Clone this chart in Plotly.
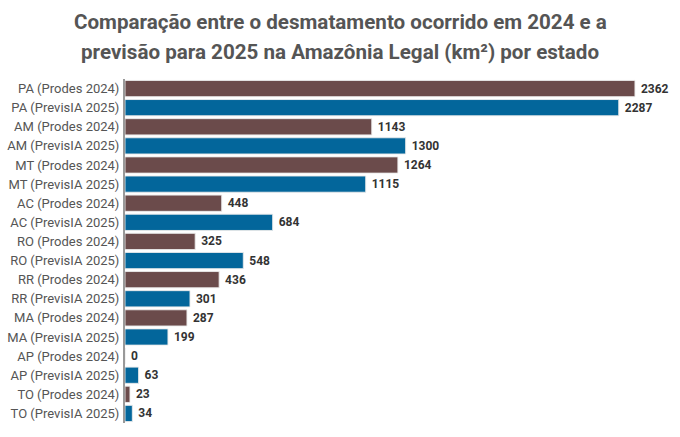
import plotly.graph_objects as go

categories = [
    "PA (Prodes 2024)", "PA (PrevisIA 2025)",
    "AM (Prodes 2024)", "AM (PrevisIA 2025)",
    "MT (Prodes 2024)", "MT (PrevisIA 2025)",
    "AC (Prodes 2024)", "AC (PrevisIA 2025)",
    "RO (Prodes 2024)", "RO (PrevisIA 2025)",
    "RR (Prodes 2024)", "RR (PrevisIA 2025)",
    "MA (Prodes 2024)", "MA (PrevisIA 2025)",
    "AP (Prodes 2024)", "AP (PrevisIA 2025)",
    "TO (Prodes 2024)", "TO (PrevisIA 2025)",
]
values = [2362, 2287, 1143, 1300, 1264, 1115, 448, 684, 325, 548,
          436, 301, 287, 199, 0, 63, 23, 34]
title_lines = [
    "Comparação entre o desmatamento ocorrido em 2024 e a",
    "previsão para 2025 na Amazônia Legal (km²) por estado",
]

BROWN = "#6B4B4B"
BLUE = "#03669B"
colors = [BROWN if "Prodes" in c else BLUE for c in categories]

W, H = 680, 437
ML, MR, MT, MB = 125, 20, 79, 14
plot_w = W - ML - MR
plot_h = H - MT - MB

fig = go.Figure(go.Bar(
    x=values,
    y=categories,
    orientation="h",
    marker=dict(color=colors, line=dict(color="rgba(235,235,235,0.9)", width=1)),
    text=[str(v) for v in values],
    textposition="outside",
    textfont=dict(family="Roboto", size=12, color="#333333"),
    texttemplate=" <b>%{text}</b>",
    cliponaxis=False,
    hoverinfo="x+y",
))

# title lines, centred on the page
cx = (W / 2 - ML) / plot_w
for i, (line, ypix) in enumerate(zip(title_lines, [22, 52])):
    fig.add_annotation(
        text=f"<b>{line}</b>", showarrow=False,
        xref="paper", yref="paper",
        x=cx, y=(H - MB - ypix) / plot_h,
        xanchor="center", yanchor="middle",
        font=dict(family="Roboto", size=20.6, color="#555555"),
    )

fig.update_layout(
    width=W, height=H,
    paper_bgcolor="white", plot_bgcolor="white",
    margin=dict(l=ML, r=MR, t=MT, b=MB, autoexpand=False),
    bargap=0.15,
    xaxis=dict(range=[0, 2478], visible=False, showgrid=False, zeroline=False),
    yaxis=dict(
        autorange="reversed", automargin=False,
        showline=True, linecolor="#999999", linewidth=2,
        showgrid=False, ticks="", ticklen=0, ticklabelstandoff=1,
        tickfont=dict(family="Roboto", size=13, color="#555555"),
    ),
    showlegend=False,
)

fig.write_html("out.html", config={"displayModeBar": False},
               post_script="document.body.style.margin='0';document.body.style.padding='0';")
